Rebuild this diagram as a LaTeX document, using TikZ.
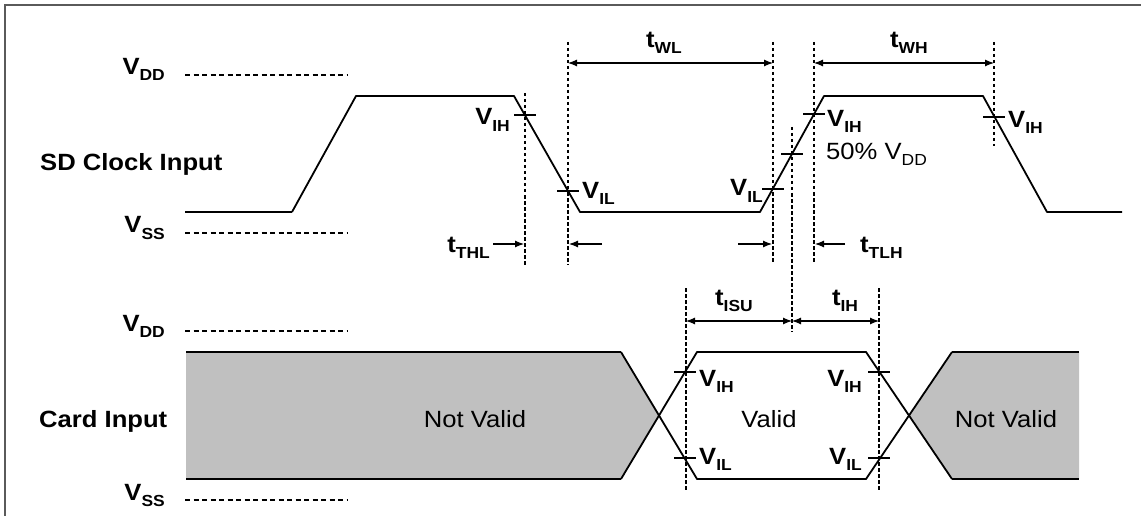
\documentclass[tikz,border=0pt]{standalone}
\usepackage{fontspec}
\setmainfont{Liberation Sans}[FakeStretch=1.09]
\usetikzlibrary{arrows.meta}
\newcommand\lowtxt[1]{\raisebox{-6pt}{\fontsize{16}{16}\selectfont #1}}
\newcommand\Vsub[1]{V\lowtxt{#1}}
\newcommand\tsub[1]{t\lowtxt{#1}}
\definecolor{bandgray}{RGB}{192,192,192}
\definecolor{framegray}{RGB}{90,90,90}
\begin{document}
\begin{tikzpicture}[x=1pt,y=-1pt,
  sig/.style={line width=1.8pt, line join=round},
  lvl/.style={dash pattern=on 5pt off 3.5pt, line width=1.2pt},
  tim/.style={dash pattern=on 3.5pt off 2.5pt, line width=1.2pt},
  tickmark/.style={line width=1.3pt},
  dim/.style={{Latex[length=9pt,width=7pt]}-{Latex[length=9pt,width=7pt]}, line width=1.1pt},
  onearrow/.style={-{Latex[length=9pt,width=7pt]}, line width=1.1pt},
  lbl/.style={inner sep=0pt, font=\bfseries\fontsize{23.5}{24}\selectfont},
  txt/.style={inner sep=0pt, font=\fontsize{23.5}{24}\selectfont},
  band/.style={line width=2.4pt}
]
\useasboundingbox (0,0) rectangle (1141,516);
% frame
\draw[line width=2.5pt, framegray] (1141,5) -- (5,5) -- (5,516);

% ---------- left labels and level lines ----------
\node[lbl, anchor=base east] (vdd1) at (165,75) {\Vsub{DD}};
\node[lbl, anchor=base east] (vss1) at (165,233) {\Vsub{SS}};
\node[lbl, anchor=base west] (clk) at (40,171) {SD Clock Input};
\node[lbl, anchor=base east] (vdd2) at (165,331) {\Vsub{DD}};
\node[lbl, anchor=base east] (vss2) at (165,500) {\Vsub{SS}};
\node[lbl, anchor=base west] (card) at (39,427) {Card Input};
\coordinate (l1a) at (185,75);  \coordinate (l1b) at (347,75);
\coordinate (l2a) at (185,233); \coordinate (l2b) at (347,233);
\coordinate (l3a) at (185,331); \coordinate (l3b) at (347,331);
\coordinate (l4a) at (185,500); \coordinate (l4b) at (347,500);
\draw[lvl] (l1a) -- (l1b);
\draw[lvl] (l2a) -- (l2b);
\draw[lvl] (l3a) -- (l3b);
\draw[lvl] (l4a) -- (l4b);

% ---------- clock waveform ----------
\coordinate (c0) at (185,212);
\coordinate (c1) at (292,212);
\coordinate (c2) at (356,96);
\coordinate (c3) at (514,96);
\coordinate (c4) at (580,212);
\coordinate (c5) at (760,212);
\coordinate (c6) at (824,96);
\coordinate (c7) at (983,96);
\coordinate (c8) at (1047,212);
\coordinate (c9) at (1122,212);
\draw[line width=2.8pt] (c0) -- (c1);
\draw[sig] (c1) -- (c2) -- (c3) -- (c4) -- (c5) -- (c6) -- (c7) -- (c8) -- (c9);

% crossing points on clock
\coordinate (p1) at (525,115);
\coordinate (p2) at (568,191);
\coordinate (p3) at (773,189);
\coordinate (p4) at (792,154);
\coordinate (p5) at (814,114);
\coordinate (p6) at (994,117);
\foreach \p in {p1,p2,p3,p4,p5,p6}
  \draw[tickmark] ([xshift=-11pt]\p) -- ([xshift=11pt]\p);

% timing verticals
\coordinate (d1t) at (525,93);  \coordinate (d1b) at (525,265);
\coordinate (d2t) at (568,42);  \coordinate (d2b) at (568,265);
\coordinate (d3t) at (773,42);  \coordinate (d3b) at (773,262);
\coordinate (d4t) at (792,127); \coordinate (d4b) at (792,332);
\coordinate (d5t) at (814,42);  \coordinate (d5b) at (814,262);
\coordinate (d6t) at (994,42);  \coordinate (d6b) at (994,146);
\foreach \i in {1,...,6} \draw[tim] (d\i t) -- (d\i b);

% clock labels
\node[lbl, anchor=base east] (vih1) at (510,125) {\Vsub{IH}};
\node[lbl, anchor=base west] (vil1) at (582,198) {\Vsub{IL}};
\node[lbl, anchor=base east] (vil2) at (763,196) {\Vsub{IL}};
\node[lbl, anchor=base west] (vih2) at (827,127) {\Vsub{IH}};
\node[txt, anchor=base west] (half) at (826,160) {50\% \Vsub{DD}};
\node[lbl, anchor=base west] (vih3) at (1008,128) {\Vsub{IH}};

% t_WL, t_WH
\coordinate (wl1) at (568,63); \coordinate (wl2) at (773,63);
\coordinate (wh1) at (814,63); \coordinate (wh2) at (994,63);
\draw[dim] (wl1) -- (wl2);
\draw[dim] (wh1) -- (wh2);
\node[lbl, anchor=base] (twl) at (664,48) {\tsub{WL}};
\node[lbl, anchor=base] (twh) at (909,48) {\tsub{WH}};

% t_THL, t_TLH
\coordinate (a1s) at (493,244); \coordinate (a1e) at (524,244);
\coordinate (a2s) at (602,244); \coordinate (a2e) at (569,244);
\coordinate (a3s) at (738,244); \coordinate (a3e) at (772,244);
\coordinate (a4s) at (845,244); \coordinate (a4e) at (815,244);
\draw[onearrow] (a1s) -- (a1e);
\draw[onearrow] (a2s) -- (a2e);
\draw[onearrow] (a3s) -- (a3e);
\draw[onearrow] (a4s) -- (a4e);
\node[lbl, anchor=base east] (tthl) at (490,252) {\tsub{THL}};
\node[lbl, anchor=base west] (ttlh) at (860,252) {\tsub{TLH}};

% ---------- card input ----------
\coordinate (b0t) at (186,352); \coordinate (b0b) at (186,479);
\coordinate (x1t) at (621,352); \coordinate (x1b) at (621,479);
\coordinate (x1c) at (659,415.5);
\coordinate (v0t) at (697,352); \coordinate (v0b) at (697,479);
\coordinate (v1t) at (866,352); \coordinate (v1b) at (866,479);
\coordinate (x2c) at (909,415.5);
\coordinate (x2t) at (952,352); \coordinate (x2b) at (952,479);
\coordinate (b1t) at (1079,352); \coordinate (b1b) at (1079,479);
\fill[bandgray] (b0t) -- (x1t) -- (x1c) -- (x1b) -- (b0b) -- cycle;
\fill[bandgray] (x2c) -- (x2t) -- (b1t) -- (b1b) -- (x2b) -- cycle;
\draw[band] (b0t) -- (x1t);
\draw[band] (b0b) -- (x1b);
\draw[band] (x2t) -- (b1t);
\draw[band] (x2b) -- (b1b);
\draw[sig] (x1t) -- (v0b) -- (v1b) -- (x2t);
\draw[sig] (x1b) -- (v0t) -- (v1t) -- (x2b);

% card verticals
\coordinate (e1t) at (686,288); \coordinate (e1b) at (686,490);
\coordinate (e2t) at (879,288); \coordinate (e2b) at (879,490);
\draw[tim] (e1t) -- (e1b);
\draw[tim] (e2t) -- (e2b);

% card ticks
\coordinate (q1) at (685,372);
\coordinate (q2) at (685,458);
\coordinate (q3) at (879,372);
\coordinate (q4) at (879,458);
\foreach \q in {q1,q2,q3,q4}
  \draw[tickmark] ([xshift=-11pt]\q) -- ([xshift=11pt]\q);

% t_ISU, t_IH
\coordinate (s1) at (686,321); \coordinate (s2) at (792,321); \coordinate (s3) at (879,321);
\draw[dim] (s1) -- (s2);
\draw[dim] (s2) -- (s3);
\node[lbl, anchor=base] (tisu) at (734,305) {\tsub{ISU}};
\node[lbl, anchor=base] (tih) at (845,305) {\tsub{IH}};

% card labels
\node[lbl, anchor=base west] (cvih1) at (699,386) {\Vsub{IH}};
\node[lbl, anchor=base west] (cvil1) at (699,464) {\Vsub{IL}};
\node[lbl, anchor=base east] (cvih2) at (862,386) {\Vsub{IH}};
\node[lbl, anchor=base east] (cvil2) at (862,464) {\Vsub{IL}};
\node[txt, anchor=base] (nv1) at (475,427) {Not Valid};
\node[txt, anchor=base] (val) at (769,427) {Valid};
\node[txt, anchor=base] (nv2) at (1006,427) {Not Valid};
\end{tikzpicture}
\end{document}
